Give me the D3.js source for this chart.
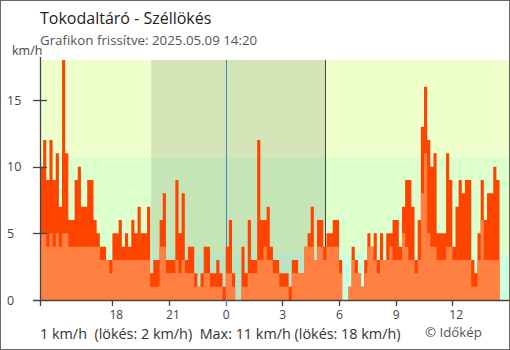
<!DOCTYPE html>
<html><head><meta charset="utf-8">
<script src="https://cdn.jsdelivr.net/npm/d3@7"></script>
<style>
html,body{margin:0;padding:0;background:#fff;}
svg{display:block;font-family:"Open Sans","Noto Sans",sans-serif;}
</style></head>
<body><svg id="c" width="510" height="350"></svg>
<script>
// ---- data ----
const title = "Tokodaltáró - Széllökés";
const subtitle = "Grafikon frissítve: 2025.05.09 14:20";
const footer = "1 km/h  (lökés: 2 km/h)  Max: 11 km/h (lökés: 18 km/h)";
const credit = "© Időkép";
const unit = "km/h";
const startTime = new Date(2025, 4, 8, 14, 10);
const stepMinutes = 10;
const gust = [10,12,9,12,9,11,7,18,11,6,6,9,10,7,7,9,9,6,5,
  4,4,3,3,5,5,6,4,5,4,6,5,7,5,5,7,2,3,
  3,6,8,3,3,3,9,5,8,3,4,4,2,1,2,4,4,2,2,
  3,2,1,4,6,2,0,0,4,2,6,3,3,12,6,6,7,4,
  3,3,2,2,2,1,3,3,2,2,4,5,7,3,6,6,4,5,5,
  6,6,3,0,0,1,4,3,2,1,3,5,4,5,3,5,3,5,
  5,
  6,6,4,7,9,9,7,3,6,13,16,12,10,11,5,5,5,
  11,
  9,4,7,9,8,9,9,3,2,5,9,6,8,8,10,9,5];
const avg = [5,5,4,5,4,5,4,5,5,4,4,4,4,4,4,4,4,4,4,
  3,3,3,2,3,3,3,3,3,3,3,3,3,3,3,3,1,1,
  1,4,4,2,2,2,3,2,3,2,2,2,1,1,1,2,2,1,1,
  1,1,0,2,2,1,0,0,1,1,2,2,2,3,3,4,3,3,
  2,2,1,1,1,0,2,2,2,2,4,4,4,3,4,4,3,4,4,
  4,4,2,0,0,1,3,2,2,1,2,4,4,3,2,3,3,3,
  4,
  3,3,3,5,4,3,3,2,3,8,11,5,4,4,3,3,3,
  4,
  4,3,3,3,3,3,3,1,1,3,6,3,3,3,3,3,3];
const yTicks = [0,5,10,15];
const xTickHours = [new Date(2025,4,8,18), new Date(2025,4,8,21), new Date(2025,4,9,0),
  new Date(2025,4,9,3), new Date(2025,4,9,6), new Date(2025,4,9,9), new Date(2025,4,9,12)];
const xTickLabels = ["18","21","0","3","6","9","12"];
const bands = [[0,3.5,"#ccffdd"],[3.5,10.75,"#ddffcc"],[10.75,18,"#eeffcc"]];
const night = [new Date(2025,4,8,20,3), new Date(2025,4,9,5,16)];
const midnight = new Date(2025,4,9,0,0);

// ---- layout ----
const L = 40, R = 509, T = 60, B = 300;
const svg = d3.select("#c");
const x = d3.scaleTime().domain([startTime, new Date(2025,4,9,15,0)]).range([L, R]);
const y = d3.scaleLinear().domain([0, 18]).range([B, T]);
const times = gust.map((d, i) => d3.timeMinute.offset(startTime, i * stepMinutes));
const series = times.map((t, i) => ({t, g: gust[i], a: avg[i]}));

svg.append("rect").attr("x",0.5).attr("y",0.5).attr("width",509).attr("height",349)
  .attr("fill","#fff").attr("stroke","#666");

svg.append("defs").append("clipPath").attr("id","pc").append("rect")
  .attr("x",L).attr("y",T).attr("width",R-L).attr("height",B-T);
const plot = svg.append("g").attr("clip-path","url(#pc)");

bands.forEach(([a,b,c]) => plot.append("rect").attr("x",L).attr("width",R-L)
  .attr("y",y(b)).attr("height",y(a)-y(b)).attr("fill",c));
plot.append("rect").attr("x",x(night[0])).attr("width",x(night[1])-x(night[0]))
  .attr("y",T).attr("height",B-T).attr("fill","#000").attr("opacity",0.1);
plot.append("line").attr("x1",Math.round(x(midnight))+0.5).attr("x2",Math.round(x(midnight))+0.5)
  .attr("y1",T).attr("y2",B).attr("stroke","#3a8dcc").attr("stroke-width",1);
plot.append("line").attr("x1",Math.round(x(night[1]))+0.5).attr("x2",Math.round(x(night[1]))+0.5)
  .attr("y1",T).attr("y2",B).attr("stroke","#444").attr("stroke-width",1);

const areaG = d3.area().curve(d3.curveStepAfter).x(d => x(d.t)).y0(B).y1(d => y(d.g));
const areaA = d3.area().curve(d3.curveStepAfter).x(d => x(d.t)).y0(B).y1(d => y(d.a));
plot.append("path").datum(series).attr("d",areaG).attr("fill","#ff4400");
plot.append("path").datum(series).attr("d",areaA).attr("fill","#ff8040");

// axes
const ax = svg.append("g").attr("stroke","#444").attr("stroke-width",1.3);
ax.append("line").attr("x1",L+0.5).attr("x2",L+0.5).attr("y1",57).attr("y2",B);
ax.append("line").attr("x1",33).attr("x2",R).attr("y1",B+0.5).attr("y2",B+0.5);
yTicks.filter(v => v > 0).forEach(v => ax.append("line").attr("x1",33).attr("x2",47)
  .attr("y1",Math.round(y(v))+0.5).attr("y2",Math.round(y(v))+0.5));
ax.append("line").attr("x1",L+0.5).attr("x2",L+0.5).attr("y1",B).attr("y2",B+6);
xTickHours.forEach((t,i) => {
  const xx = Math.round(x(t)) + 0.5;
  svg.append("line").attr("x1",xx).attr("x2",xx).attr("y1",B).attr("y2",B+6)
    .attr("stroke", +t === +midnight ? "#3a8dcc" : "#444").attr("stroke-width",1.3);
  svg.append("text").attr("x",x(t)-3).attr("y",319).attr("font-size",12)
    .attr("fill","#444").text(xTickLabels[i]);
});
yTicks.forEach(v => svg.append("text").attr("x",7).attr("y",y(v)+4.5)
  .attr("font-size",12.5).attr("fill","#444").text(v));
svg.append("text").attr("x",12).attr("y",55).attr("font-size",12.5).attr("fill","#444").text(unit);

svg.append("text").attr("x",40).attr("y",24).attr("font-size",16).attr("fill","#222").text(title);
svg.append("text").attr("x",40).attr("y",45).attr("font-size",13.3).attr("fill","#555").text(subtitle);
svg.append("text").attr("x",40).attr("y",339).attr("font-size",14.4).attr("fill","#333")
  .style("white-space","pre").text(footer);
svg.append("text").attr("x",425).attr("y",337).attr("font-size",13.3).attr("fill","#555").text(credit);
</script></body></html>
